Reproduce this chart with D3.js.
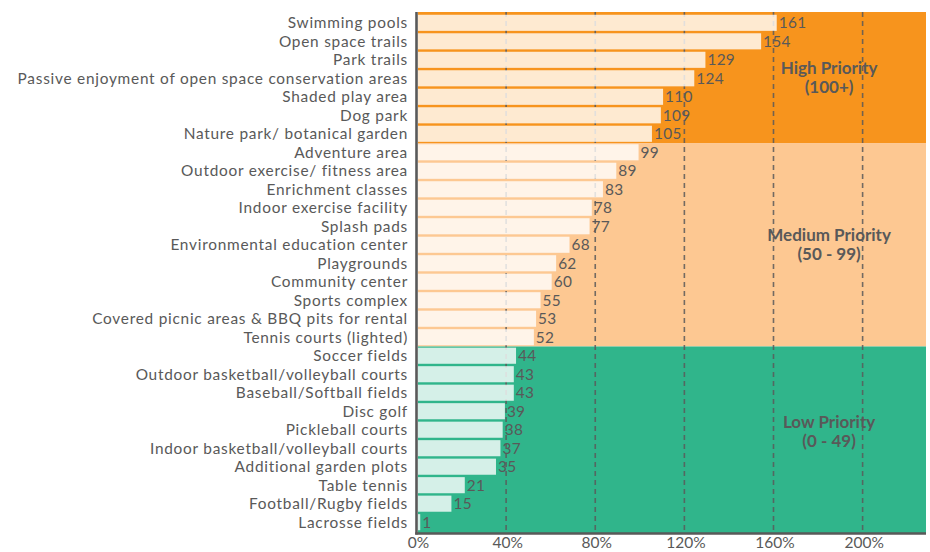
<!DOCTYPE html>
<html>
<head>
<meta charset="utf-8">
<script src="https://cdn.jsdelivr.net/npm/d3@7"></script>
<style>
  html, body { margin: 0; padding: 0; background: #ffffff; }
  svg { display: block; }
  text { font-family: Lato, "Open Sans", sans-serif; }
</style>
</head>
<body>
<svg id="chart" width="930" height="552"></svg>
<script>
// Amenity ranking (weighted priority score, % of average)
const categories = [
  "Swimming pools",
  "Open space trails",
  "Park trails",
  "Passive enjoyment of open space conservation areas",
  "Shaded play area",
  "Dog park",
  "Nature park/ botanical garden",
  "Adventure area",
  "Outdoor exercise/ fitness area",
  "Enrichment classes",
  "Indoor exercise facility",
  "Splash pads",
  "Environmental education center",
  "Playgrounds",
  "Community center",
  "Sports complex",
  "Covered picnic areas & BBQ pits for rental",
  "Tennis courts (lighted)",
  "Soccer fields",
  "Outdoor basketball/volleyball courts",
  "Baseball/Softball fields",
  "Disc golf",
  "Pickleball courts",
  "Indoor basketball/volleyball courts",
  "Additional garden plots",
  "Table tennis",
  "Football/Rugby fields",
  "Lacrosse fields"
];

const values = [
  161, 154, 129, 124, 110, 109, 105,
  99, 89, 83, 78, 77, 68, 62, 60, 55, 53, 52,
  44, 43, 43, 39, 38, 37, 35, 21, 15, 1
];

const xTicks = [0, 40, 80, 120, 160, 200];

// Priority tiers: score thresholds, captions and fill colours
const tierNames   = ["High Priority", "Medium Priority", "Low Priority"];
const tierRanges  = ["(100+)", "(50 - 99)", "(0 - 49)"];
const tierMin     = [100, 50, 0];
const tierMax     = [Infinity, 99.999, 49.999];
const tierColors  = ["#F7941D", "#FDC892", "#30B58B"];

const svg = d3.select("#chart");
const textColor = "#595959";

const plot = { left: 418, right: 926, top: 12, bottom: 533 };

const x = d3.scaleLinear().domain([0, 228]).range([plot.left, plot.right]);
const y = d3.scaleBand()
  .domain(categories)
  .range([plot.top, plot.bottom])
  .paddingInner(0.13)
  .paddingOuter(0.15);

const rows = categories.map((c, i) => ({ name: c, value: values[i], index: i }));
const gap = (y.step() - y.bandwidth()) / 2;

// Background tier bands, spanning the rows whose scores fall in each tier
const tiers = tierNames.map((name, t) => {
  const members = rows.filter(r => r.value >= tierMin[t] && r.value <= tierMax[t]);
  const first = members[0], last = members[members.length - 1];
  const top = first.index === 0 ? plot.top : y(first.name) - gap;
  const bottom = last.index === categories.length - 1 ? plot.bottom : y(last.name) + y.bandwidth() + gap;
  return { name, range: tierRanges[t], color: tierColors[t], top, bottom };
});

svg.append("g").selectAll("rect")
  .data(tiers)
  .join("rect")
  .attr("x", plot.left)
  .attr("width", plot.right - plot.left)
  .attr("y", d => d.top)
  .attr("height", d => d.bottom - d.top)
  .attr("fill", d => d.color);

// Dashed vertical gridlines
svg.append("g").selectAll("line")
  .data(xTicks.filter(v => v > 0))
  .join("line")
  .attr("x1", d => x(d) - 1).attr("x2", d => x(d) - 1)
  .attr("y1", plot.top).attr("y2", plot.bottom)
  .attr("stroke", textColor)
  .attr("stroke-opacity", 0.85)
  .attr("stroke-width", 1.6)
  .attr("stroke-dasharray", "5,4");

// Bars: translucent white over the tier colour
svg.append("g").selectAll("rect")
  .data(rows)
  .join("rect")
  .attr("x", x(0))
  .attr("y", d => y(d.name))
  .attr("width", d => x(d.value) - x(0))
  .attr("height", y.bandwidth())
  .attr("fill", "#ffffff")
  .attr("fill-opacity", 0.8);

// Value labels at bar ends
svg.append("g").selectAll("text")
  .data(rows)
  .join("text")
  .attr("x", d => x(d.value) + 2)
  .attr("y", d => y(d.name) + y.bandwidth() / 2)
  .attr("dy", "0.36em")
  .attr("fill", textColor)
  .attr("font-size", 15.4)
  .attr("letter-spacing", 0.3)
  .text(d => d.value);

// Category labels
svg.append("g").selectAll("text")
  .data(rows)
  .join("text")
  .attr("x", plot.left - 10)
  .attr("y", d => y(d.name) + y.bandwidth() / 2)
  .attr("dy", "0.36em")
  .attr("text-anchor", "end")
  .attr("fill", textColor)
  .attr("font-size", 15.4)
  .attr("letter-spacing", 0.75)
  .text(d => d.name);

// Tier captions
const captionX = x(184.5);
const cap = svg.append("g").selectAll("text")
  .data(tiers)
  .join("text")
  .attr("text-anchor", "middle")
  .attr("fill", textColor)
  .attr("font-size", 17)
  .attr("font-weight", "bold");
cap.append("tspan")
  .attr("x", captionX)
  .attr("y", (d, i) => (d.top + d.bottom) / 2 - (i === 2 ? 12 : 4))
  .text(d => d.name);
cap.append("tspan")
  .attr("x", captionX)
  .attr("dy", 19)
  .text(d => d.range);

// Axes
svg.append("line")
  .attr("x1", plot.left - 1.5).attr("x2", plot.left - 1.5)
  .attr("y1", plot.top).attr("y2", plot.bottom + 1.5)
  .attr("stroke", textColor).attr("stroke-width", 2.6);
svg.append("line")
  .attr("x1", plot.left - 2.8).attr("x2", plot.right)
  .attr("y1", plot.bottom + 0.5).attr("y2", plot.bottom + 0.5)
  .attr("stroke", textColor).attr("stroke-width", 2.6);

const xAxis = d3.axisBottom(x)
  .tickValues(xTicks)
  .tickFormat(d => d + "%")
  .tickSize(0);
const ax = svg.append("g")
  .attr("transform", `translate(0,${plot.bottom})`)
  .call(xAxis);
ax.select(".domain").remove();
ax.selectAll("text")
  .attr("y", 15)
  .attr("dy", null)
  .attr("fill", textColor)
  .attr("font-size", 15.5)
  .attr("font-family", "Lato, 'Open Sans', sans-serif");
</script>
</body>
</html>
